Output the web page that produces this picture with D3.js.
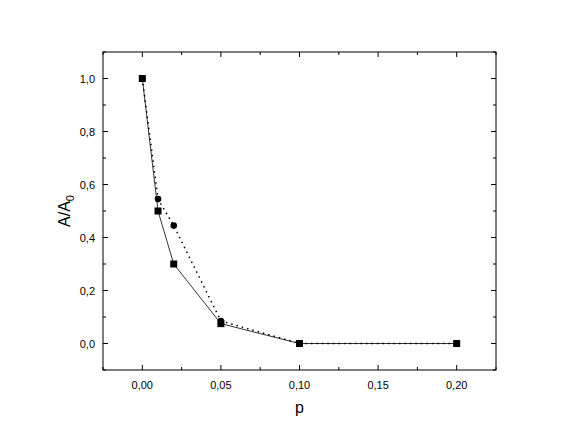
<!DOCTYPE html><html><head><script src="https://cdn.jsdelivr.net/npm/d3@7"></script>
<style>body{margin:0;background:#fff}</style></head><body><svg id="c" width="575" height="444"></svg>
<script>
const pValues=[0,0.01,0.02,0.05,0.1,0.2];
const seriesSquares=[1,0.5,0.3,0.075,0,0];
const seriesCircles=[1,0.545,0.445,0.085,0,0];
const xTicks=[0,0.05,0.1,0.15,0.2];
const yTicks=[0,0.2,0.4,0.6,0.8,1.0];
const svg=d3.select("#c");
const L=103,R=496,T=52,B=370;
const x=d3.scaleLinear().domain([-0.025,0.225]).range([L,R]);
const y=d3.scaleLinear().domain([-0.1,1.1]).range([B,T]);
const fmt=d=>d.toFixed(d>=0&&x.domain()[1]<1&&d<0.5&&xTicks.includes(d)?2:1).replace(".",",");
svg.append("rect").attr("x",L).attr("y",T).attr("width",R-L).attr("height",B-T).attr("fill","none").attr("stroke","#000");
const xMin=d3.range(-0.025,0.2251,0.025), yMin=d3.range(-0.1,1.101,0.1);
const g=svg.append("g").attr("stroke","#000");
xMin.forEach((v,i)=>{const len=Math.abs(Math.round(v/0.025))%2===0?5:3;
 g.append("line").attr("x1",x(v)).attr("x2",x(v)).attr("y1",B).attr("y2",B-len);
 g.append("line").attr("x1",x(v)).attr("x2",x(v)).attr("y1",T).attr("y2",T+len);});
yMin.forEach(v=>{const len=Math.abs(Math.round(v*10))%2===0?5:3;
 g.append("line").attr("y1",y(v)).attr("y2",y(v)).attr("x1",L).attr("x2",L+len);
 g.append("line").attr("y1",y(v)).attr("y2",y(v)).attr("x1",R).attr("x2",R-len);});
svg.selectAll(".xt").data(xTicks).enter().append("text").attr("x",d=>x(d)).attr("y",B+19).attr("text-anchor","middle")
 .attr("font-family","Arial, Liberation Sans").attr("font-size",11).text(d=>d.toFixed(2).replace(".",","));
svg.selectAll(".yt").data(yTicks).enter().append("text").attr("x",L-8).attr("y",d=>y(d)+4).attr("text-anchor","end")
 .attr("font-family","Arial, Liberation Sans").attr("font-size",11).text(d=>d.toFixed(1).replace(".",","));
svg.append("text").attr("x",(L+R)/2).attr("y",413).attr("text-anchor","middle").attr("font-family","Arial, Liberation Sans").attr("font-size",16).text("p");
const yl=svg.append("text").attr("transform",`translate(70,${(T+B)/2}) rotate(-90)`).attr("text-anchor","middle").attr("font-family","Arial, Liberation Sans").attr("font-size",16);
yl.append("tspan").text("A/A");yl.append("tspan").attr("font-size",11).attr("dy",4).text("0");
const line=d3.line().x(d=>x(d[0])).y(d=>y(d[1]));
const sq=pValues.map((p,i)=>[p,seriesSquares[i]]), ci=pValues.map((p,i)=>[p,seriesCircles[i]]);
svg.append("path").attr("d",line(ci)).attr("fill","none").attr("stroke","#000").attr("stroke-width",1.5).attr("stroke-dasharray","1.5,4");
svg.append("path").attr("d",line(sq)).attr("fill","none").attr("stroke","#000").attr("stroke-width",0.8);
svg.selectAll(".ci").data(ci).enter().append("circle").attr("cx",d=>x(d[0])).attr("cy",d=>y(d[1])).attr("r",3.3).attr("fill","#000");
svg.selectAll(".sq").data(sq).enter().append("rect").attr("x",d=>x(d[0])-3.5).attr("y",d=>y(d[1])-3.5).attr("width",7).attr("height",7).attr("fill","#000");
</script></body></html>
